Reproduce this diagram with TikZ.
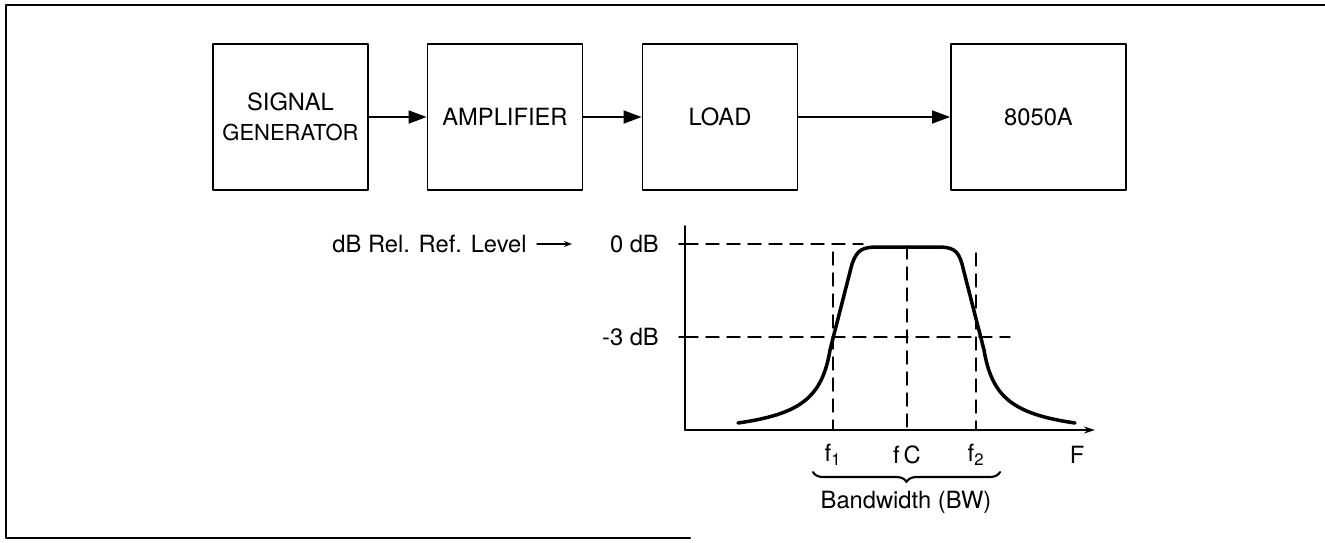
\documentclass[tikz,border=0pt]{standalone}
\usepackage{fontspec}
\setmainfont{TeX Gyre Heros}
\usetikzlibrary{arrows.meta,decorations.pathreplacing}
\tikzset{
	block/.style={draw, line width=1.1pt, minimum width=3.1cm, minimum height=2.92cm, align=center, inner sep=0pt},
	flow/.style={line width=1pt, -{Triangle[length=0.36cm, width=0.26cm]}},
	guide/.style={dashed, line width=0.8pt, dash pattern=on 0.26cm off 0.16cm},
}
\begin{document}
\begin{tikzpicture}[x=0.02cm, y=-0.02cm, font=\fontsize{13.5}{17}\selectfont, line join=round, line cap=round, >=stealth]
	\useasboundingbox (0,0) rectangle (1325,542);
	% frame
	\draw[line width=1.2pt] (1325,5) -- (6,5) -- (6,538) -- (690,538);
	% blocks
	\node[block] (gen) at (290.5,117) {SIGNAL\\{\fontsize{12.5}{17}\selectfont GENERATOR}};
	\node[block] (amp) at (505,117) {AMPLIFIER};
	\node[block] (load) at (720,117) {LOAD};
	\node[block, minimum width=3.5cm] (dmm) at (1038.5,117) {8050A};
	\draw[flow] (gen) -- (amp);
	\draw[flow] (amp) -- (load);
	\draw[flow] (load) -- (dmm);
	% response plot
	\coordinate (O) at (685,430);
	\coordinate (T) at (685,226);
	\coordinate (X) at (1095,430);
	\coordinate (Z) at (685,244);
	\coordinate (M) at (685,337);
	\draw[line width=1pt] (T) -- (O);
	\draw[line width=1pt, -{Stealth[length=0.22cm, width=0.14cm]}] (O) -- (X);
	\draw[line width=0.8pt] (679,244) -- (691,244);
	\draw[line width=0.8pt] (679,337) -- (691,337);
	\draw[guide] (Z) -- (863,244);
	\draw[guide] (M) -- (1010,337);
	\draw[guide] (833,252) -- (833,430);
	\draw[guide] (907,246) -- (907,430);
	\draw[guide] (976,253) -- (976,430);
	\draw[line width=2pt] (738,423) .. controls (800,414) and (822,398) .. (830,350)
		-- (852,264) .. controls (857,250) and (862,247) .. (878,247) -- (937,247)
		.. controls (953,247) and (958,250) .. (962,264) -- (984,350)
		.. controls (992,398) and (1014,414) .. (1075,423);
	% labels
	\node[anchor=east] (zero) at (665,244) {0 dB};
	\node[anchor=east] (three) at (665,337) {-3 dB};
	\node[anchor=east, inner xsep=0.2cm] (lvl) at (537,244) {dB Rel. Ref. Level};
	\coordinate (lvltip) at (572,244);
	\draw[line width=0.8pt, -{Stealth[length=0.16cm, width=0.12cm]}] (lvl) -- (lvltip);
	\node (fa) at (833,455) {f\textsubscript{1}};
	\node (fc) at (907,455) {f\,C};
	\node (fb) at (976,455) {f\textsubscript{2}};
	\node (fF) at (1077,455) {F};
	\draw[line width=1.2pt, decorate, decoration={brace, mirror, amplitude=0.2cm}] (813,472) -- (1000,472);
	\node (bw) at (906,502) {Bandwidth (BW)};
\end{tikzpicture}
\end{document}
